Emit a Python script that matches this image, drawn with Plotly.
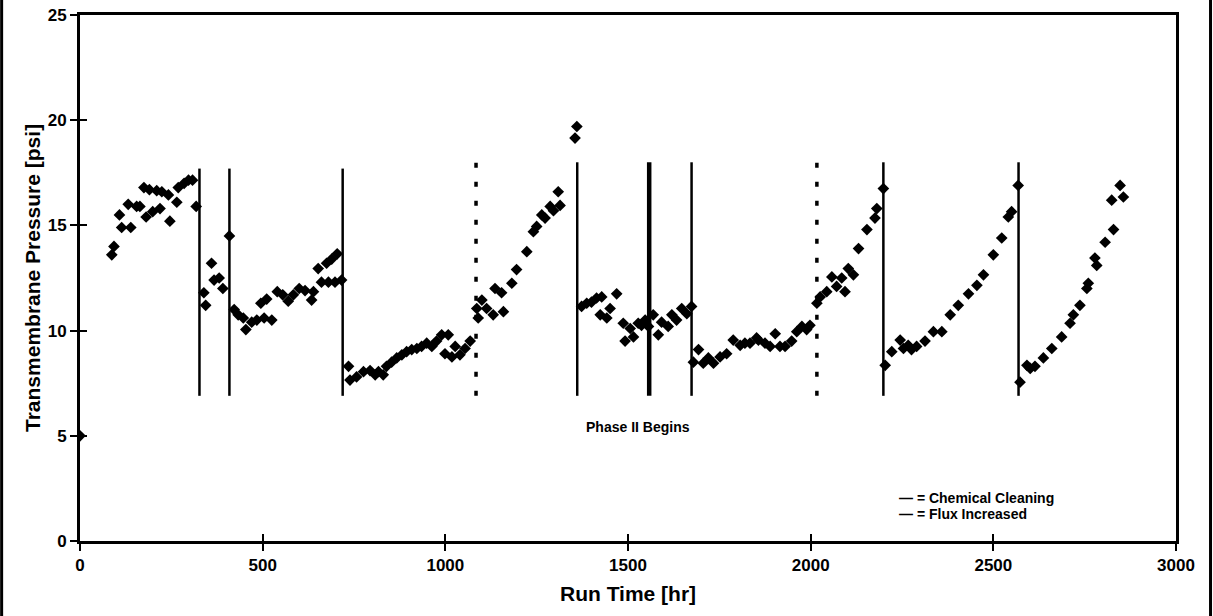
import plotly.graph_objects as go

# Transmembrane pressure readings over the run
run_time_hr = [
    0,
    87, 93, 108, 114, 132, 139, 155, 164, 175, 181, 190, 199, 210, 219, 224,
    242, 246, 265, 269, 285, 297, 308, 318,
    339, 344, 360, 367, 381, 391, 409,
    422, 433, 447, 454, 470, 484, 495, 504, 511, 525, 540, 555, 570, 584,
    600, 616, 634, 639, 652, 661, 675, 680, 689, 698, 704, 716,
    735, 739, 757, 776, 794, 808, 817, 830, 839, 853, 867, 881, 894, 908,
    922, 935, 949, 963, 976, 990, 999, 1008, 1018, 1027, 1040, 1054, 1068,
    1086, 1090, 1100, 1113, 1131, 1136, 1154, 1159, 1182, 1195, 1223, 1241,
    1250, 1264, 1273, 1287, 1296, 1309, 1314, 1355, 1360,
    1373, 1387, 1400, 1414, 1428, 1424, 1442, 1451, 1469, 1487, 1492, 1506,
    1515, 1528, 1537, 1547, 1556, 1569, 1583, 1592, 1610, 1620, 1633, 1647,
    1661, 1674,
    1679, 1693, 1706, 1720, 1734, 1752, 1770, 1788, 1807, 1820, 1834, 1852,
    1857, 1875, 1889, 1903, 1916, 1930, 1948, 1962, 1976, 1989, 1998,
    2017, 2026, 2044, 2058, 2071, 2085, 2094, 2103, 2117, 2131, 2154, 2176,
    2181, 2199,
    2204, 2222, 2245, 2254, 2267, 2276, 2290, 2313, 2336, 2359, 2382, 2404,
    2432, 2455, 2473, 2500, 2523, 2541, 2550, 2568,
    2573, 2592, 2601, 2614, 2637, 2660, 2687, 2710, 2719, 2737, 2756, 2760,
    2778, 2783, 2806, 2829, 2824, 2847, 2856,
]
tmp_psi = [
    5.0,
    13.6, 14.0, 15.5, 14.9, 16.0, 14.9, 15.9, 15.9, 16.8, 15.4, 16.7, 15.65,
    16.65, 15.8, 16.6, 16.45, 15.2, 16.1, 16.8, 17.0, 17.15, 17.15, 15.9,
    11.8, 11.2, 13.2, 12.4, 12.5, 12.0, 14.5,
    11.0, 10.75, 10.6, 10.05, 10.4, 10.5, 11.3, 10.6, 11.5, 10.5, 11.85, 11.7,
    11.4, 11.7, 12.0, 11.9, 11.45, 11.85, 12.95, 12.3, 13.2, 12.3, 13.4, 12.3,
    13.65, 12.4,
    8.3, 7.65, 7.8, 8.05, 8.1, 7.9, 8.05, 7.9, 8.3, 8.5, 8.7, 8.85, 9.0, 9.1,
    9.15, 9.25, 9.4, 9.25, 9.5, 9.8, 8.9, 9.8, 8.75, 9.25, 8.85, 9.15, 9.5,
    11.05, 10.6, 11.45, 11.05, 10.75, 12.0, 11.8, 10.9, 12.25, 12.9, 13.75,
    14.7, 14.95, 15.5, 15.35, 15.9, 15.7, 16.6, 15.95, 19.15, 19.7,
    11.15, 11.3, 11.35, 11.55, 11.6, 10.75, 10.6, 11.05, 11.75, 10.35, 9.5,
    10.1, 9.7, 10.35, 10.25, 10.5, 10.2, 10.75, 9.8, 10.4, 10.2, 10.75, 10.5,
    11.05, 10.8, 11.15,
    8.5, 9.1, 8.45, 8.7, 8.45, 8.75, 8.9, 9.55, 9.3, 9.4, 9.4, 9.65, 9.55,
    9.4, 9.25, 9.85, 9.25, 9.25, 9.5, 9.95, 10.2, 10.05, 10.25,
    11.3, 11.6, 11.85, 12.55, 12.1, 12.5, 11.85, 12.95, 12.65, 13.9, 14.8,
    15.35, 15.8, 16.75,
    8.35, 9.0, 9.55, 9.15, 9.3, 9.1, 9.25, 9.5, 9.95, 9.95, 10.75, 11.2,
    11.75, 12.15, 12.65, 13.6, 14.4, 15.4, 15.65, 16.9,
    7.55, 8.35, 8.2, 8.3, 8.7, 9.15, 9.7, 10.35, 10.75, 11.2, 12.0, 12.25,
    13.45, 13.1, 14.2, 14.8, 16.2, 16.9, 16.35,
]

# Events marked on the chart
cleaning_hr = [327, 409, 719, 1361, 1558, 1674, 2199, 2569]
flux_increase_hr = [1084, 2017]
marker_low_psi = 6.9
marker_high_psi = [17.7, 17.7, 17.7, 18.0, 18.0, 18.0, 18.0, 18.0]
flux_high_psi = 18.0

x_ticks = [0, 500, 1000, 1500, 2000, 2500, 3000]
y_ticks = [0, 5, 10, 15, 20, 25]

FONT = "Liberation Sans, Arial, sans-serif"

fig = go.Figure()

# vertical event lines (solid = chemical cleaning, dotted = flux increase)
for i, t in enumerate(cleaning_hr):
    fig.add_trace(go.Scatter(
        x=[t, t], y=[marker_low_psi, marker_high_psi[i]], mode="lines",
        line=dict(color="black", width=4.5 if t == 1558 else 2.5),
        hoverinfo="skip", showlegend=False))
for t in flux_increase_hr:
    fig.add_trace(go.Scatter(
        x=[t, t], y=[marker_low_psi, flux_high_psi], mode="lines",
        line=dict(color="black", width=3.5, dash="5px,14px"),
        hoverinfo="skip", showlegend=False))

fig.add_trace(go.Scatter(
    x=run_time_hr, y=tmp_psi, mode="markers",
    marker=dict(symbol="diamond", size=9, color="black", line=dict(width=0)),
    showlegend=False))

# overlay axes give the tick marks their inner half
fig.add_trace(go.Scatter(x=[None], y=[None], xaxis="x2", yaxis="y2",
                         showlegend=False, hoverinfo="skip"))

axis_common = dict(showgrid=False, zeroline=False, showline=True,
                   linecolor="black", linewidth=3, mirror=True,
                   ticks="outside", ticklen=7, tickwidth=2, tickcolor="black",
                   tickfont=dict(family=FONT, size=17, color="black", weight="bold"))

fig.update_layout(
    width=1213, height=616,
    margin=dict(l=80, r=37, t=15, b=75, autoexpand=False),
    paper_bgcolor="white", plot_bgcolor="white",
    showlegend=False,
    xaxis=dict(range=[0, 3000], tickvals=x_ticks, automargin=False, **axis_common),
    yaxis=dict(range=[0, 25], tickvals=y_ticks, automargin=False, **axis_common),
    xaxis2=dict(range=[0, 3000], tickvals=x_ticks, overlaying="x", side="bottom",
                ticks="inside", ticklen=7, tickwidth=2, tickcolor="black",
                showticklabels=False, showgrid=False, zeroline=False, showline=False),
    yaxis2=dict(range=[0, 25], tickvals=y_ticks, overlaying="y", side="left",
                ticks="inside", ticklen=7, tickwidth=2, tickcolor="black",
                showticklabels=False, showgrid=False, zeroline=False, showline=False),
)

annotations = [
    dict(text="Run Time [hr]", xref="paper", yref="paper", x=0.5, y=0,
         yshift=-52, showarrow=False, yanchor="middle",
         font=dict(family=FONT, size=21, color="black", weight="bold")),
    dict(text="Transmembrane Pressure [psi]", xref="paper", yref="paper",
         x=0, y=0.5, xshift=-48, textangle=-90, showarrow=False,
         xanchor="center", yanchor="middle",
         font=dict(family=FONT, size=21, color="black", weight="bold")),
    dict(text="Phase II Begins", x=1527, y=5.42, xref="x", yref="y",
         showarrow=False, font=dict(family=FONT, size=14, color="black", weight="bold")),
    dict(text="\u2014 = Chemical Cleaning", x=2236, y=2.05, xref="x", yref="y",
         xanchor="left", showarrow=False,
         font=dict(family=FONT, size=14, color="black", weight="bold")),
    dict(text="\u2014 = Flux Increased", x=2236, y=1.3, xref="x", yref="y",
         xanchor="left", showarrow=False,
         font=dict(family=FONT, size=14, color="black", weight="bold")),
]
fig.update_layout(annotations=annotations)

# page frame on the left and right edges
fig.add_shape(type="line", xref="paper", yref="paper", x0=-0.0715, x1=-0.0715,
              y0=-0.15, y1=1.05, line=dict(color="black", width=3))
fig.add_shape(type="line", xref="paper", yref="paper", x0=1.0315, x1=1.0315,
              y0=-0.15, y1=1.05, line=dict(color="black", width=3))

fig.write_html("out.html")
